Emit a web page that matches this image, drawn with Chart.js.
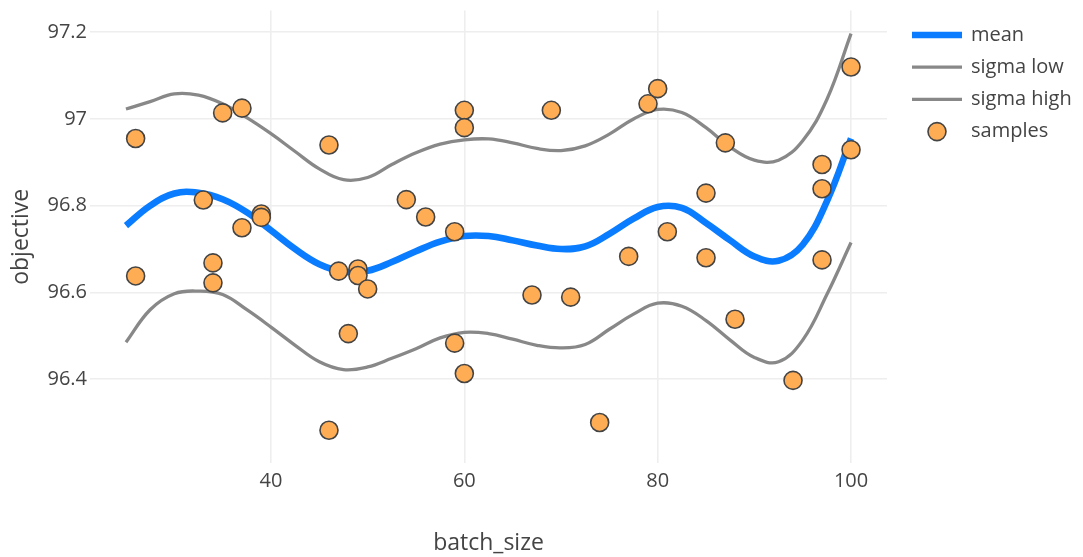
<!DOCTYPE html>
<html>
<head>
<meta charset="utf-8">
<script src="https://cdn.jsdelivr.net/npm/chart.js@4.4.1/dist/chart.umd.min.js"></script>
<style>
  html, body { margin: 0; padding: 0; background: #ffffff; }
  #wrap { width: 1083px; height: 557px; position: relative; }
</style>
</head>
<body>
<div id="wrap"><canvas id="chart" width="1083" height="557"></canvas></div>
<script>
// Grid of batch sizes at which the surrogate model curves are evaluated
const curveX = [25, 27.5, 30, 32.5, 35, 37.5, 40, 42.5, 45, 47.5, 50, 52.5, 55, 57.5, 60,
                62.5, 65, 67.5, 70, 72.5, 75, 77.5, 80, 82.5, 85, 87.5, 90, 92.5, 95, 97.5, 100];

// Posterior mean of the objective
const meanY = [96.754, 96.800, 96.828, 96.830, 96.815, 96.785, 96.743, 96.700, 96.665, 96.648,
               96.650, 96.670, 96.695, 96.717, 96.730, 96.730, 96.720, 96.708, 96.700, 96.706,
               96.735, 96.770, 96.797, 96.795, 96.760, 96.720, 96.683, 96.673, 96.710, 96.810, 96.955];

// Mean minus one sigma
const sigmaLowY = [96.485, 96.560, 96.597, 96.603, 96.595, 96.560, 96.520, 96.478, 96.440, 96.422,
                   96.428, 96.448, 96.470, 96.495, 96.508, 96.505, 96.492, 96.478, 96.472, 96.480,
                   96.515, 96.550, 96.575, 96.568, 96.535, 96.490, 96.450, 96.440, 96.490, 96.595, 96.715];

// Mean plus one sigma
const sigmaHighY = [97.023, 97.040, 97.058, 97.055, 97.035, 97.003, 96.966, 96.925, 96.885, 96.860,
                    96.865, 96.895, 96.922, 96.942, 96.952, 96.954, 96.945, 96.932, 96.927, 96.938,
                    96.965, 97.000, 97.022, 97.015, 96.980, 96.935, 96.905, 96.905, 96.950, 97.045, 97.197];

// Evaluated trials: batch size and observed objective
const sampleX = [26, 26, 33, 34, 34, 35, 37, 37, 39, 39, 46, 46, 47, 48, 49, 49, 50, 54, 56, 59, 59,
                 60, 60, 60, 67, 69, 71, 74, 77, 79, 80, 81, 85, 85, 87, 88, 94, 97, 97, 97, 100, 100];
const sampleY = [96.955, 96.638, 96.813, 96.668, 96.622, 97.014, 97.025, 96.749, 96.781, 96.773,
                 96.940, 96.282, 96.649, 96.505, 96.654, 96.639, 96.608, 96.814, 96.774, 96.740, 96.483,
                 97.020, 96.980, 96.413, 96.594, 97.020, 96.589, 96.300, 96.683, 97.035, 97.070, 96.740,
                 96.829, 96.680, 96.945, 96.538, 96.397, 96.895, 96.839, 96.675, 97.120, 96.929];

// Axis ticks
const xTicks = [40, 60, 80, 100];
const yTicks = [96.4, 96.6, 96.8, 97, 97.2];

const FONT = "'Open Sans', 'Noto Sans', sans-serif";
const TEXT = '#444444';
const BLUE = 'rgb(10,124,255)';
const GREY = 'rgb(136,136,136)';
const ORANGE = 'rgb(255,173,85)';

const pts = (xs, ys) => xs.map((x, i) => ({ x: x, y: ys[i] }));

// Legend drawn at the right of the plot, one row per dataset
const sideLegend = {
  id: 'sideLegend',
  afterDraw(chart) {
    const ctx = chart.ctx;
    const x0 = 912, x1 = 962, tx = 971, y0 = 35, dy = 32.2;
    ctx.save();
    ctx.font = '20px ' + FONT;
    ctx.textBaseline = 'middle';
    ctx.textAlign = 'left';
    chart.data.datasets.forEach((ds, i) => {
      const y = y0 + i * dy;
      if (ds.showLine === false) {
        ctx.beginPath();
        ctx.arc((x0 + x1) / 2, y, ds.pointRadius, 0, Math.PI * 2);
        ctx.fillStyle = ds.backgroundColor;
        ctx.fill();
        ctx.lineWidth = ds.borderWidth;
        ctx.strokeStyle = ds.borderColor;
        ctx.stroke();
      } else {
        ctx.beginPath();
        ctx.moveTo(x0, y);
        ctx.lineTo(x1, y);
        ctx.lineWidth = ds.borderWidth;
        ctx.strokeStyle = ds.borderColor;
        ctx.stroke();
      }
      ctx.fillStyle = TEXT;
      ctx.fillText(ds.label, tx, y);
    });
    ctx.restore();
  }
};

const lineDefaults = {
  showLine: true,
  pointRadius: 0,
  pointHoverRadius: 0,
  tension: 0.4,
  fill: false
};

new Chart(document.getElementById('chart'), {
  type: 'scatter',
  data: {
    datasets: [
      Object.assign({ label: 'mean', data: pts(curveX, meanY), borderColor: BLUE, borderWidth: 6.6, order: 1 }, lineDefaults),
      Object.assign({ label: 'sigma low', data: pts(curveX, sigmaLowY), borderColor: GREY, borderWidth: 3.3, order: 2 }, lineDefaults),
      Object.assign({ label: 'sigma high', data: pts(curveX, sigmaHighY), borderColor: GREY, borderWidth: 3.3, order: 3 }, lineDefaults),
      {
        label: 'samples',
        data: pts(sampleX, sampleY),
        showLine: false,
        pointRadius: 9,
        pointHoverRadius: 9,
        backgroundColor: ORANGE,
        borderColor: 'rgb(68,68,68)',
        borderWidth: 1.6,
        order: 0
      }
    ]
  },
  options: {
    responsive: false,
    animation: false,
    events: [],
    layout: { padding: { left: 0, top: 10, right: 196, bottom: 0 } },
    plugins: {
      legend: { display: false },
      tooltip: { enabled: false }
    },
    scales: {
      x: {
        type: 'linear',
        min: 21.28,
        max: 103.72,
        afterBuildTicks: s => { s.ticks = xTicks.map(v => ({ value: v })); },
        afterFit: s => { s.height = 94; s.paddingLeft = 0; s.paddingRight = 0; },
        grid: { color: '#eeeeee', lineWidth: 1.6, drawTicks: false },
        border: { display: false },
        ticks: {
          padding: 6,
          color: TEXT,
          font: { family: FONT, size: 20 },
          maxRotation: 0,
          callback: v => String(v)
        },
        title: {
          display: true,
          text: 'batch_size',
          color: TEXT,
          font: { family: FONT, size: 23 },
          padding: { top: 0, bottom: 0 }
        }
      },
      y: {
        type: 'linear',
        min: 96.2065,
        max: 97.25,
        afterBuildTicks: s => { s.ticks = yTicks.map(v => ({ value: v })); },
        afterFit: s => { s.width = 90; s.paddingTop = 0; s.paddingBottom = 0; },
        grid: { color: '#eeeeee', lineWidth: 1.6, drawTicks: false },
        border: { display: false },
        ticks: {
          padding: 3,
          color: TEXT,
          font: { family: FONT, size: 20 },
          callback: v => String(+v.toFixed(1))
        },
        title: {
          display: true,
          text: 'objective',
          color: TEXT,
          font: { family: FONT, size: 23 },
          padding: { top: 8, bottom: 0 }
        }
      }
    }
  },
  plugins: [sideLegend]
});
</script>
</body>
</html>
